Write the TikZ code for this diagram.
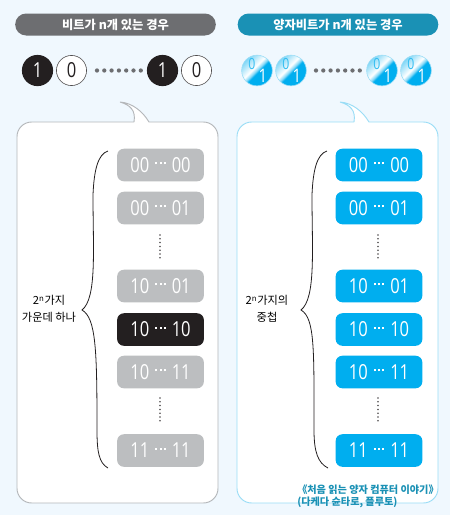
\documentclass[tikz,border=0pt]{standalone}
\usepackage{fontspec}
\setmainfont{Noto Sans CJK KR}
\newfontfamily\numfont[FakeStretch=.8]{Open Sans}
\definecolor{pagebg}{HTML}{F0F8FE}
\definecolor{headgray}{HTML}{6D6E71}
\definecolor{headteal}{HTML}{1A91B5}
\definecolor{linegray}{HTML}{B4B7BA}
\definecolor{lineblue}{HTML}{9ADDF6}
\definecolor{boxgray}{HTML}{BCBEC0}
\definecolor{boxdark}{HTML}{231F20}
\definecolor{qblue}{HTML}{00AEEF}
\pgfdeclarehorizontalshading{qubitshade}{100bp}{color(0bp)=(qblue!50); color(25bp)=(qblue!50); color(44bp)=(white); color(50bp)=(qblue!50); color(53bp)=(qblue); color(100bp)=(qblue)}
\newcommand{\valdot}{\rule[6pt]{1.5pt}{1.5pt}}
\newcommand{\gap}{\hspace{4.6pt}\valdot\hspace{1.6pt}\valdot\hspace{1.6pt}\valdot\hspace{4.6pt}}
\tikzset{
  headbar/.style={draw=none,rounded corners=8.2pt,minimum width=150.5pt,minimum height=16.5pt,inner sep=0pt,text=white,font=\fontsize{9.2}{10}\selectfont\bfseries},
  bitone/.style={circle,fill=boxdark,minimum size=23.4pt,inner sep=0pt,text=white,font=\numfont\fontsize{15.5}{16}\selectfont},
  bitzero/.style={circle,draw=boxdark!80,line width=.45pt,fill=white,minimum size=22.6pt,inner sep=0pt,text=boxdark,font=\numfont\fontsize{15.5}{16}\selectfont},
  qubit/.style={circle,draw=lineblue,line width=.45pt,minimum size=23pt,inner sep=0pt,shading=qubitshade,shading angle=-45},
  qzero/.style={text=qblue!80,font=\numfont\fontsize{11.5}{12}\selectfont,inner sep=0pt},
  qone/.style={text=white,font=\numfont\fontsize{14}{14}\selectfont,inner sep=0pt},
  valbox/.style={rounded corners=5pt,minimum width=65pt,minimum height=24.4pt,inner sep=0pt,text=white,font=\numfont\fontsize{15.5}{16}\selectfont},
  panel/.style={fill=white,line width=.7pt},
  sidelabel/.style={align=center,font=\fontsize{8.4}{12.4}\selectfont,text=black,inner sep=0pt},
  vdot/.style={circle,fill=boxdark!80,minimum size=1.3pt,inner sep=0pt},
  hdot/.style={circle,fill=headgray,minimum size=3.2pt,inner sep=0pt},
  sourcetext/.style={anchor=west,inner sep=0pt,text=headteal,font=\fontsize{7.6}{9}\selectfont\bfseries}
}
\begin{document}
\begin{tikzpicture}[x=.75pt,y=-.75pt]
  \useasboundingbox (0,0) rectangle (450,515);
  \fill[pagebg] (0,0) rectangle (450,515);
  % header bars
  \node[headbar,fill=headgray] (headbit) at (115.5,24.5) {비트가 n개 있는 경우};
  \node[headbar,fill=headteal] (headqubit) at (338,24.5) {양자비트가 n개 있는 경우};
  % bits
  \node[bitone] (bita) at (37.5,70.5) {1};
  \node[bitzero] (bitb) at (71.5,70.5) {0};
  \node[bitone] (bitc) at (162.5,70.5) {1};
  \node[bitzero] (bitd) at (196.5,70.5) {0};
  \foreach \x in {0,...,6}{\node[hdot] (bitdot\x) at (97+\x*7.3,70.5) {};}
  % qubits
  \foreach \name/\x in {a/257,b/291,c/382,d/416}{
    \node[qubit] (qubit\name) at (\x,70.5) {};
    \node[qzero] (qubit\name zero) at (\x-5,64.5) {0};
    \node[qone] (qubit\name one) at (\x+6,75.5) {1};
  }
  \foreach \x in {0,...,6}{\node[hdot] (qubitdot\x) at (316+\x*7.3,70.5) {};}
  % panels
  \draw[panel,draw=linegray] (134,122) .. controls (136,110) and (130,105) .. (120,102) .. controls (133,103) and (143,112) .. (149,122) [rounded corners=11pt] -| (218,503) -| (17,122) -- (134,122);
  \draw[panel,draw=lineblue] (354,122) .. controls (356,110) and (350,105) .. (340,102) .. controls (353,103) and (363,112) .. (369,122) [rounded corners=11pt] -| (438,503) -| (237,122) -- (354,122);
  % braces
  \draw[boxdark,line width=.6pt] (108,151) .. controls (98,154) and (94,170) .. (93,195) .. controls (93,250) and (97,298) .. (82,310) .. controls (96,318) and (97,350) .. (97,430) .. controls (97,452) and (99,463) .. (108,468);
  \draw[boxdark,line width=.6pt] (327,151) .. controls (317,154) and (313,170) .. (312,195) .. controls (312,250) and (316,298) .. (301,310) .. controls (315,318) and (314,350) .. (314,430) .. controls (314,452) and (318,463) .. (328,468);
  \node[sidelabel] (labelbit) at (49,309) {2\textsuperscript{n}가지\\가운데 하나};
  \node[sidelabel] (labelqubit) at (267,309) {2\textsuperscript{n}가지의\\중첩};
  % value boxes
  \node[valbox,fill=boxgray] (bitbox1) at (160.5,165) {00\gap00};
  \node[valbox,fill=boxgray] (bitbox2) at (160.5,208) {00\gap01};
  \node[valbox,fill=boxgray] (bitbox3) at (160.5,286) {10\gap01};
  \node[valbox,fill=boxdark] (bitbox4) at (160.5,329.5) {10\gap10};
  \node[valbox,fill=boxgray] (bitbox5) at (160.5,372) {10\gap11};
  \node[valbox,fill=boxgray] (bitbox6) at (160.5,450.5) {11\gap11};
  \node[valbox,fill=qblue] (qbox1) at (379,165) {00\gap00};
  \node[valbox,fill=qblue] (qbox2) at (379,208) {00\gap01};
  \node[valbox,fill=qblue] (qbox3) at (379,286) {10\gap01};
  \node[valbox,fill=qblue] (qbox4) at (379,329.5) {10\gap10};
  \node[valbox,fill=qblue] (qbox5) at (379,372) {10\gap11};
  \node[valbox,fill=qblue] (qbox6) at (379,450.5) {11\gap11};
  % vertical dots
  \foreach \y in {0,...,6}{
    \node[vdot] (leftupper\y) at (160,235+\y*3.8) {};
    \node[vdot] (rightupper\y) at (378,235+\y*3.8) {};
    \node[vdot] (leftlower\y) at (160,398+\y*3.8) {};
    \node[vdot] (rightlower\y) at (378,398+\y*3.8) {};
  }
  % source
  \node[sourcetext] (source) at (297,490) {《처음 읽는 양자 컴퓨터 이야기》};
  \node[sourcetext] (sourceb) at (297,502) {(다케다 슌타로, 플루토)};
\end{tikzpicture}
\end{document}
